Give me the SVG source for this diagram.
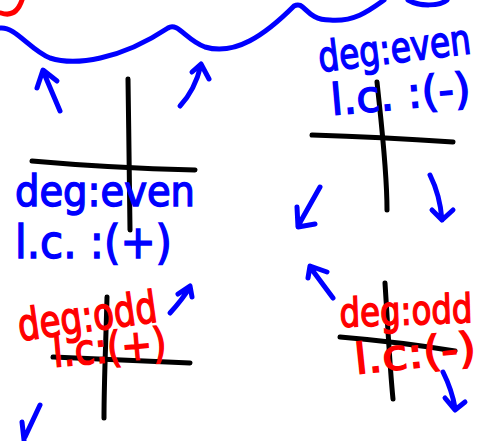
<svg xmlns="http://www.w3.org/2000/svg" width="482" height="441" viewBox="0 0 482 441">
<style>
.b{fill:none;stroke:#0000ff;stroke-width:5;stroke-linecap:round;stroke-linejoin:round}
.r{fill:none;stroke:#ff0000;stroke-width:5;stroke-linecap:round;stroke-linejoin:round}
.k{fill:none;stroke:#000;stroke-width:5;stroke-linecap:round;stroke-linejoin:round}
.tb{font-family:"DejaVu Sans","Liberation Sans",sans-serif;fill:#0000ff;stroke:#0000ff;stroke-width:1.5}
.tr{font-family:"DejaVu Sans","Liberation Sans",sans-serif;fill:#ff0000;stroke:#ff0000;stroke-width:1.5}
</style>
<rect width="482" height="441" fill="#fff"/>
<g id="top-curve">
<path class="r" d="M1,13 Q16,18 22,0"/>
<path class="b" d="M0,28 C15,26 30,50 50,58 C75,66 120,60 168,28 C178,22 186,40 205,47 C235,56 265,35 294,6 C305,0 305,20 330,20 C355,22 370,10 384,0"/>
<path class="b" d="M408,0 C420,7 440,6 447,0"/>
</g>
<g id="panel-even-positive">
<path class="k" d="M128,79 C129,130 129,190 130,230"/>
<path class="k" d="M32,161 Q110,168 195,170"/>
<path class="b" d="M60,111 L43,71 M37,88 L43,70 L57,81"/>
<path class="b" d="M180,106 Q195,90 201,65 M192,72 L201,64 L209,79"/>
<text class="tb" x="15" y="206" font-size="43" textLength="180" lengthAdjust="spacingAndGlyphs">deg:even</text>
<text class="tb" x="15" y="258" font-size="46" textLength="157" lengthAdjust="spacingAndGlyphs">l.c. :(+)</text>
</g>
<g id="panel-even-negative">
<path class="k" d="M377,82 C382,130 387,170 387,210"/>
<path class="k" d="M312,135 Q380,137 453,142"/>
<path class="b" d="M320,187 L298,226 M297,207 L298,227 L315,224"/>
<path class="b" d="M430,175 Q440,195 442,220 M432,210 L442,220 L453,210"/>
<text class="tb" transform="translate(320,72) rotate(-7) scale(0.78,1)" x="0" y="0" font-size="42">deg:even</text>
<text class="tb" transform="translate(332,115) rotate(-5)" x="0" y="0" font-size="43">l.c. :(-)</text>
</g>
<g id="panel-odd-positive">
<path class="k" d="M107,297 C106,340 104,380 104,418"/>
<path class="k" d="M53,357 Q120,360 190,363"/>
<path class="b" d="M170,313 Q182,300 190,287 M178,294 L190,286 L192,297"/>
<path class="b" d="M40,405 L25,437 M22,422 L24,440"/>
<text class="tr" transform="rotate(-8 20 341)" x="20" y="341" font-size="44" textLength="140" lengthAdjust="spacingAndGlyphs">deg:odd</text>
<text class="tr" transform="rotate(-5 54 367)" x="54" y="367" font-size="42" textLength="114" lengthAdjust="spacingAndGlyphs">l.c:(+)</text>
</g>
<g id="panel-odd-negative">
<path class="k" d="M385,283 C388,330 390,370 393,399"/>
<path class="k" d="M340,337 Q400,342 455,351"/>
<path class="b" d="M333,298 L310,267 M308,278 L310,266 L327,272"/>
<path class="b" d="M443,372 Q452,390 455,408 M445,398 L455,410 L465,402"/>
<text class="tr" transform="translate(340,327) rotate(-2) scale(0.81,1)" x="0" y="0" font-size="40">deg:odd</text>
<text class="tr" transform="rotate(-6 356 374)" x="356" y="374" font-size="42" textLength="122" lengthAdjust="spacingAndGlyphs">l.c:(-)</text>
</g>
</svg>
